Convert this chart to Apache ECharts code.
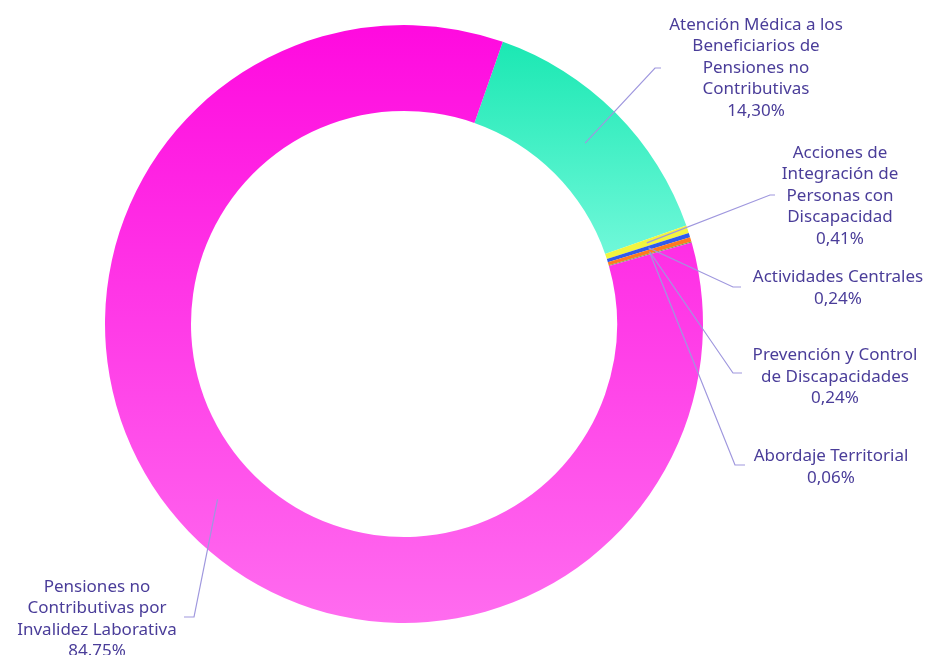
<!DOCTYPE html>
<html>
<head>
<meta charset="utf-8">
<script src="https://cdn.jsdelivr.net/npm/echarts@6/dist/echarts.min.js"></script>
<style>
  html, body { margin: 0; padding: 0; background: #fff; }
  #chart { width: 933px; height: 655px; }
</style>
</head>
<body>
<div id="chart"></div>
<script>
// datos del gráfico (orden horario, empezando por el tramo verde)
const categories = [
  'Atención Médica a los\nBeneficiarios de\nPensiones no\nContributivas',
  'Acciones de\nIntegración de\nPersonas con\nDiscapacidad',
  'Actividades Centrales',
  'Prevención y Control\nde Discapacidades',
  'Abordaje Territorial',
  'Pensiones no\nContributivas por\nInvalidez Laborativa'
];
const values = [14.30, 0.41, 0.24, 0.24, 0.06, 84.75];
const valueLabels = ['14,30%', '0,41%', '0,24%', '0,24%', '0,06%', '84.75%'];

// geometría del anillo
const CX = 404, CY = 324, R_OUT = 299, R_IN = 213;
const R_MID = (R_OUT + R_IN) / 2;

// posición de cada etiqueta: centro del texto, codo y fin de la línea
const labelPlace = [
  { tx: 756, ty: 68,  bx: 655, by: 68,  ex: 661, ey: 68 },
  { tx: 840, ty: 196, bx: 770, by: 195, ex: 775, ey: 195 },
  { tx: 838, ty: 288, bx: 733, by: 287, ex: 741, ey: 287 },
  { tx: 835, ty: 377, bx: 733, by: 373, ex: 742, ey: 373 },
  { tx: 831, ty: 467, bx: 735, by: 465, ex: 745, ey: 465 },
  { tx: 97,  ty: 619, bx: 194, by: 617, ex: 184, ey: 617 }
];

function grad(top, bottom) {
  return new echarts.graphic.LinearGradient(0, 0, 0, 1, [
    { offset: 0, color: top },
    { offset: 1, color: bottom }
  ]);
}
const colors = [
  grad('#1be8b3', '#6ff8d9'),
  '#f2f53f',
  '#2f5bec',
  '#ff7a1e',
  '#77a34f',
  grad('#ff0adf', '#ff6cef')
];

const base = {
  type: 'pie',
  center: [CX, CY],
  radius: [R_IN, R_OUT],
  startAngle: 70.7,
  clockwise: true,
  avoidLabelOverlap: false
};

const chart = echarts.init(document.getElementById('chart'));
chart.setOption({
  animation: false,
  series: [
    // anillo
    Object.assign({}, base, {
      z: 2,
      data: values.map((v, i) => ({
        name: categories[i],
        value: v,
        itemStyle: { color: colors[i] }
      })),
      label: { show: false },
      labelLine: { show: false }
    }),
    // capa transparente encima, solo para etiquetas y líneas guía
    Object.assign({}, base, {
      z: 3,
      silent: true,
      data: values.map((v, i) => ({
        name: categories[i],
        value: v,
        itemStyle: { color: 'rgba(0,0,0,0)' }
      })),
      label: {
        show: true,
        formatter: p => p.name + '\n' + valueLabels[p.dataIndex],
        color: '#4a3d99',
        fontFamily: 'Noto Sans',
        fontSize: 17,
        lineHeight: 21.5,
        align: 'center'
      },
      labelLine: {
        show: true,
        length: 20,
        length2: 10,
        lineStyle: { color: '#9f97de', width: 1.2 }
      },
      labelLayout: function (params) {
        const lp = labelPlace[params.dataIndex];
        const p0 = params.labelLinePoints ? params.labelLinePoints[0] : [CX, CY];
        const dx = p0[0] - CX, dy = p0[1] - CY;
        const d = Math.sqrt(dx * dx + dy * dy) || 1;
        const start = [CX + dx / d * R_MID, CY + dy / d * R_MID];
        return {
          x: lp.tx,
          y: lp.ty,
          align: 'center',
          verticalAlign: 'middle',
          labelLinePoints: [start, [lp.bx, lp.by], [lp.ex, lp.ey]]
        };
      }
    })
  ]
});
</script>
</body>
</html>
